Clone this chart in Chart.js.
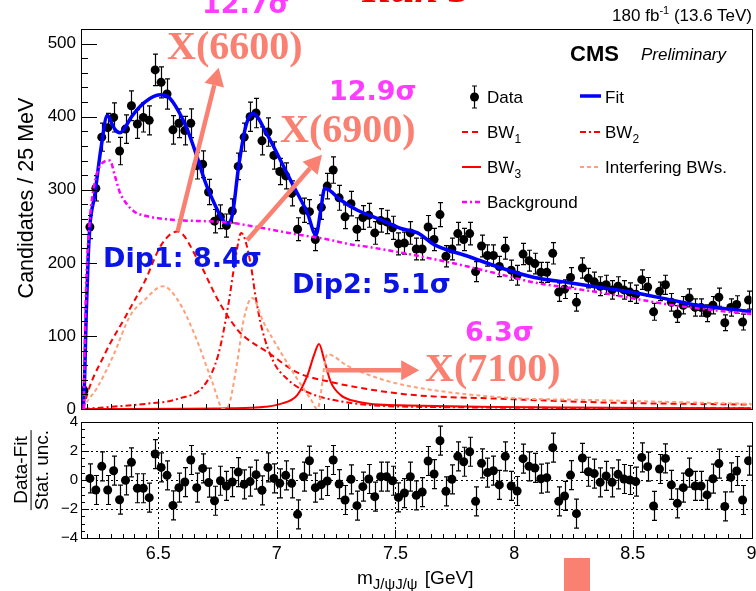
<!DOCTYPE html>
<html>
<head>
<meta charset="utf-8">
<title>J/psi J/psi mass fit</title>
<script src="https://cdn.jsdelivr.net/npm/chart.js@4.4.1/dist/chart.umd.min.js"></script>
<style>
  html, body { margin: 0; padding: 0; background: #fff; }
  body { position: relative; width: 756px; height: 591px; overflow: hidden; font-family: "Liberation Sans", Arial, sans-serif; }
  canvas { position: absolute; left: 0; }
  .t { position: absolute; white-space: nowrap; line-height: 1; }
  .sig { font-family: "DejaVu Sans", sans-serif; font-weight: bold; font-size: 27px; color: #ff3cff; }
  .dip { font-family: "DejaVu Sans", sans-serif; font-weight: bold; font-size: 27px; color: #0a14e6; }
  .xs { font-family: "Liberation Serif", "Times New Roman", serif; font-weight: bold; font-size: 40px; color: #fa8072; }
  .leg { font-size: 17px; color: #000; }
  .sub { font-size: 12px; position: relative; top: 5px; }
  .rot { position: absolute; transform: translate(-50%, -50%) rotate(-90deg); white-space: nowrap; font-size: 19px; line-height: 1.05; text-align: center; }
</style>
</head>
<body>
<canvas id="top" width="756" height="415" style="top:0"></canvas>
<canvas id="pull" width="756" height="176" style="top:415px"></canvas>

<div class="t" style="left:362px;top:-34px;font-family:'Liberation Serif',serif;font-weight:bold;font-style:italic;font-size:43px;color:#f00000">Run 3</div>
<div class="t sig" style="left:202px;top:-10px">12.7σ</div>
<div class="t xs" style="left:167px;top:26px">X(6600)</div>
<div class="t sig" style="left:329px;top:77px">12.9σ</div>
<div class="t xs" style="left:280px;top:109px">X(6900)</div>
<div class="t dip" style="left:103px;top:244px">Dip1: 8.4σ</div>
<div class="t dip" style="left:292px;top:270px">Dip2: 5.1σ</div>
<div class="t sig" style="left:465px;top:318px">6.3σ</div>
<div class="t xs" style="left:425px;top:348px">X(7100)</div>

<div class="t" style="right:4px;top:7px;font-size:17px">180 fb<span style="font-size:11px;position:relative;top:-7px">-1</span> (13.6 TeV)</div>
<div class="t" style="left:570px;top:43px;font-size:22px;font-weight:bold">CMS</div>
<div class="t" style="left:641px;top:46px;font-size:17px;font-style:italic">Preliminary</div>

<div class="t leg" style="left:487px;top:89px">Data</div>
<div class="t leg" style="left:605px;top:89px">Fit</div>
<div class="t leg" style="left:487px;top:124px">BW<span class="sub">1</span></div>
<div class="t leg" style="left:605px;top:124px">BW<span class="sub">2</span></div>
<div class="t leg" style="left:487px;top:159px">BW<span class="sub">3</span></div>
<div class="t leg" style="left:605px;top:159px">Interfering BWs.</div>
<div class="t leg" style="left:487px;top:194px">Background</div>

<div class="rot" style="left:26px;top:198px;font-size:21.5px">Candidates / 25 MeV</div>
<div class="rot" style="left:31px;top:470px"><div style="border-bottom:1.5px solid #000;padding:0 2px">Data-Fit</div><div>Stat. unc.</div></div>
<div class="t" style="left:357px;top:568px;font-size:19px">m<span style="font-size:15px;position:relative;top:5px;margin-right:2px">J/ψJ/ψ</span> [GeV]</div>

<div style="position:absolute;left:564px;top:558px;width:26px;height:33px;background:#fa8072"></div>

<script>
const FONT = '"Liberation Sans", Arial, sans-serif';

// 25 MeV bins, 6.175 - 9.0 GeV
const binLow = 6.175;
const binWidth = 0.025;
const counts = [
  25, 249, 302, 372, 385, 399, 353, 383, 415, 390, 399, 395, 464, 447, 431, 382, 391, 381, 391, 333,
  335, 297, 257, 263, 251, 271, 332, 372, 400, 405, 367, 379, 347, 325, 319, 295, 246, 272, 270, 232,
  276, 305, 327, 289, 263, 281, 246, 262, 265, 241, 258, 256, 248, 226, 227, 241, 219, 219, 249, 232,
  266, 209, 219, 240, 232, 240, 188, 223, 210, 210, 195, 220, 190, 183, 212, 203, 199, 187, 187, 213,
  160, 164, 180, 146, 193, 179, 174, 168, 170, 163, 168, 163, 160, 157, 177, 167, 133, 161, 170, 146,
  130, 142, 152, 139, 139, 131, 142, 153, 118, 139, 143, 119, 149
];
// (data - fit) / stat. unc.
const pulls = [
  null, 0.11, -0.69, 0.94, -0.69, 0.64, -1.36, -0.02, 1.22, -0.57, -0.57, -1.22, 1.79, 0.87, 0.32, -1.75, -0.53, -0.14, 1.38, -0.53,
  0.8, -0.18, -1.43, -0.05, -0.41, -0.14, 0.55, -0.3, -0.11, 0.37, -0.71, 0.87, 0.11, -0.23, 0.32, -0.23, -2.37, 0.23, 1.33, -0.53,
  -0.32, -0.07, 1.38, -0.28, -1.38, 0.05, -1.77, -0.46, 0.07, -1.15, 0.23, 0.23, -0.05, -1.2, -0.9, 0.23, -1.06, -0.83, 1.31, 0.41,
  2.71, -0.78, 0.05, 1.63, 1.26, 1.95, -1.47, 1.15, 0.51, 0.64, -0.34, 1.63, -0.41, -0.76, 1.47, 0.94, 0.83, 0.09, 0.16, 2.23,
  -1.47, -1.1, 0.34, -2.32, 1.52, 0.57, 0.44, -0.16, 0.28, -0.16, 0.39, 0.07, 0, -0.11, 1.56, 0.92, -1.79, 0.76, 1.49, -0.34,
  -1.61, -0.53, 0.51, -0.41, -0.41, -1.03, 0.09, 1.13, -1.82, 0.18, 0.62, -1.38, 1.33
];

// curves (mass in GeV, candidates / 25 MeV)
const fitM = [6.185, 6.19, 6.197, 6.205, 6.212, 6.233, 6.261, 6.286, 6.303, 6.317, 6.339, 6.36, 6.388, 6.444, 6.508, 6.543, 6.585, 6.627, 6.662, 6.698, 6.733, 6.768, 6.789, 6.813, 6.838, 6.867, 6.888, 6.9, 6.96, 7.016, 7.072, 7.129, 7.165, 7.185, 7.202, 7.269, 7.34, 7.438, 7.523, 7.593, 7.663, 7.805, 7.945, 8.086, 8.227, 8.368, 8.508, 8.649, 8.79, 8.931, 9.0];
const fitY = [0, 40, 130, 205, 249, 293, 361, 402, 392, 383, 378, 385, 400, 420, 430, 427, 408, 379, 347, 311, 284, 261, 254, 266, 329, 384, 402, 404, 375, 340, 304, 268, 238, 272, 302, 286, 272, 259, 247, 241, 225, 209, 193, 180, 173, 166, 159, 150, 141, 136, 133];

const bgM = [6.186, 6.195, 6.21, 6.23, 6.26, 6.297, 6.317, 6.338, 6.36, 6.4, 6.45, 6.5, 6.6, 6.7, 6.8, 6.9, 7.0, 7.1, 7.2, 7.3, 7.4, 7.523, 7.663, 7.804, 7.945, 8.086, 8.227, 8.368, 8.508, 8.649, 8.79, 9.0];
const bgY = [0, 150, 250, 305, 335, 340, 320, 297, 284, 270, 264, 261, 258, 257, 255, 250, 244, 238, 233, 226, 221, 214, 205, 195, 184, 173, 166, 159, 151, 143, 137, 130];

const bw1M = [6.186, 6.19, 6.275, 6.36, 6.444, 6.514, 6.582, 6.669, 6.754, 6.838, 6.875, 6.96, 7.086, 7.227, 7.368, 7.579, 7.945, 8.368, 9.0];
const bw1Y = [0, 7, 75, 125, 175, 225, 243, 203, 148, 107, 96, 78, 50, 37, 28, 19, 14, 9, 6];

const bw2M = [6.186, 6.3, 6.444, 6.585, 6.698, 6.754, 6.796, 6.824, 6.85, 6.889, 6.91, 6.938, 6.987, 7.044, 7.129, 7.298, 7.579, 9.0];
const bw2Y = [0, 3, 7, 14, 34, 75, 143, 202, 241, 200, 155, 109, 64, 41, 23, 9, 3, 1];

const bw3M = [6.186, 6.8, 6.95, 7.016, 7.086, 7.129, 7.156, 7.178, 7.199, 7.227, 7.269, 7.34, 7.509, 9.0];
const bw3Y = [0, 1, 3, 7, 19, 46, 73, 89, 68, 37, 19, 10, 5, 1];

const intM = [6.186, 6.192, 6.241, 6.311, 6.381, 6.445, 6.52, 6.585, 6.656, 6.726, 6.775, 6.797, 6.833, 6.861, 6.896, 6.945, 7.016, 7.086, 7.142, 7.171, 7.213, 7.298, 7.438, 7.579, 7.945, 8.368, 9.0];
const intY = [0, 5, 28, 73, 127, 150, 168, 148, 100, 39, 0, 5, 64, 123, 152, 118, 78, 41, 14, 0, 75, 59, 41, 30, 16, 12, 7];

// arrows from each resonance to its label, in data coordinates
const arrows = [
  { from: [6.582, 243], to: [6.755, 467] },
  { from: [6.875, 231], to: [7.19, 348] },
  { from: [7.206, 53], to: [7.6, 53] },
];

const massCenters = counts.map((_, i) => +(binLow + binWidth * (i + 0.5)).toFixed(4));
const xy = (xs, ys) => xs.map((x, i) => ({ x, y: ys[i] }));

function curve(label, xs, ys, color, width, dash) {
  return {
    label, type: 'line', data: xy(xs, ys),
    borderColor: color, borderWidth: width, borderDash: dash || [],
    pointRadius: 0, showLine: true, fill: false,
    cubicInterpolationMode: 'monotone',
  };
}

// ROOT style: ticks pointing into the frame, on left and bottom
function insideTicks(ctx, area, scale, horiz, step, every, lenMinor, lenMajor) {
  const k0 = Math.ceil(scale.min / step - 1e-6);
  const k1 = Math.floor(scale.max / step + 1e-6);
  for (let k = k0; k <= k1; k++) {
    const p = Math.round(scale.getPixelForValue(k * step)) + 0.5;
    const len = k % every === 0 ? lenMajor : lenMinor;
    ctx.beginPath();
    if (horiz) { ctx.moveTo(p, area.bottom); ctx.lineTo(p, area.bottom - len); }
    else { ctx.moveTo(area.left, p); ctx.lineTo(area.left + len, p); }
    ctx.stroke();
  }
}

const frame = {
  id: 'frame',
  afterDraw(chart, args, o) {
    const { ctx, chartArea: a, scales } = chart;
    ctx.save();
    ctx.strokeStyle = '#000';
    ctx.lineWidth = 1;
    ctx.setLineDash([]);
    insideTicks(ctx, a, scales.x, true, o.x[0], o.x[1], o.x[2], o.x[3]);
    insideTicks(ctx, a, scales.y, false, o.y[0], o.y[1], o.y[2], o.y[3]);
    ctx.strokeRect(Math.round(a.left) + 0.5, Math.round(a.top) + 0.5, Math.round(a.right - a.left), Math.round(a.bottom - a.top));
    ctx.restore();
  }
};

const errorBars = {
  id: 'errorBars',
  afterDatasetDraw(chart, args) {
    const ds = chart.data.datasets[args.index];
    if (!ds.errors) return;
    const { ctx } = chart;
    const y = chart.scales.y;
    ctx.save();
    ctx.strokeStyle = '#000';
    ctx.lineWidth = 1.2;
    args.meta.data.forEach((pt, i) => {
      const v = ds.data[i].y;
      if (v == null) return;
      const e = ds.errors[i];
      const x = Math.round(pt.x) + 0.5;
      const y1 = y.getPixelForValue(v + e), y2 = y.getPixelForValue(v - e);
      ctx.beginPath();
      ctx.moveTo(x, y1); ctx.lineTo(x, y2);
      ctx.moveTo(x - 2.5, y1); ctx.lineTo(x + 2.5, y1);
      ctx.moveTo(x - 2.5, y2); ctx.lineTo(x + 2.5, y2);
      ctx.stroke();
    });
    ctx.restore();
  }
};

const annotations = {
  id: 'annotations',
  afterDatasetsDraw(chart) {
    const { ctx, scales: { x, y } } = chart;
    ctx.save();
    ctx.strokeStyle = ctx.fillStyle = '#fa8072';
    ctx.lineWidth = 4.5;
    arrows.forEach(a => {
      const x0 = x.getPixelForValue(a.from[0]), y0 = y.getPixelForValue(a.from[1]);
      const x1 = x.getPixelForValue(a.to[0]), y1 = y.getPixelForValue(a.to[1]);
      const ang = Math.atan2(y1 - y0, x1 - x0);
      const hl = 18, hw = 10;
      const bx = x1 - hl * Math.cos(ang), by = y1 - hl * Math.sin(ang);
      ctx.beginPath(); ctx.moveTo(x0, y0); ctx.lineTo(bx, by); ctx.stroke();
      ctx.beginPath();
      ctx.moveTo(x1, y1);
      ctx.lineTo(bx + hw * Math.sin(ang), by - hw * Math.cos(ang));
      ctx.lineTo(bx - hw * Math.sin(ang), by + hw * Math.cos(ang));
      ctx.closePath(); ctx.fill();
    });
    ctx.restore();

    // legend symbols
    const seg = (x0, x1, yy, color, w, dash) => {
      ctx.save();
      ctx.strokeStyle = color; ctx.lineWidth = w; ctx.setLineDash(dash);
      ctx.beginPath(); ctx.moveTo(x0, yy); ctx.lineTo(x1, yy); ctx.stroke();
      ctx.restore();
    };
    ctx.save();
    ctx.strokeStyle = ctx.fillStyle = '#000';
    ctx.lineWidth = 1.2;
    ctx.beginPath();
    ctx.moveTo(474.5, 86); ctx.lineTo(474.5, 108);
    ctx.moveTo(472, 86); ctx.lineTo(477, 86);
    ctx.moveTo(472, 108); ctx.lineTo(477, 108);
    ctx.stroke();
    ctx.beginPath(); ctx.arc(474.5, 97, 4.5, 0, Math.PI * 2); ctx.fill();
    ctx.restore();
    seg(580, 601, 96, '#0000ff', 3.5, []);
    seg(462, 481, 132, '#ff0000', 2, [6, 4]);
    seg(580, 601, 132, '#ff0000', 2, [6, 3, 2, 3]);
    seg(462, 481, 167, '#ff0000', 2, []);
    seg(580, 601, 167, '#ffa07a', 2, [4, 3]);
    seg(462, 481, 202, '#ff00ff', 2.5, [5, 3, 2, 3]);
  }
};

const yAxisFit = s => { s.width = 81; s.paddingTop = 0; s.paddingBottom = 0; };

new Chart(document.getElementById('top'), {
  type: 'scatter',
  data: {
    datasets: [
      curve('Background', bgM, bgY, '#ff00ff', 2.5, [5, 3, 2, 3]),
      curve('Interfering BWs.', intM, intY, '#ffa07a', 2, [4, 3]),
      curve('BW1', bw1M, bw1Y, '#ff0000', 2, [6, 4]),
      curve('BW2', bw2M, bw2Y, '#ff0000', 2, [6, 3, 2, 3]),
      curve('BW3', bw3M, bw3Y, '#ff0000', 2, []),
      curve('Fit', fitM, fitY, '#0000ff', 3.5, []),
      {
        label: 'Data',
        data: xy(massCenters, counts),
        errors: counts.map(Math.sqrt),
        showLine: false,
        pointRadius: 4.5,
        pointBackgroundColor: '#000',
        pointBorderWidth: 0,
      },
    ],
  },
  options: {
    responsive: false,
    animation: false,
    devicePixelRatio: 1,
    layout: { padding: { top: 29, right: 4, bottom: 6, left: 0 } },
    plugins: {
      legend: { display: false },
      tooltip: { enabled: false },
      frame: { x: [0.1, 5, 5, 10], y: [20, 5, 7, 16] },
    },
    scales: {
      x: { type: 'linear', min: binLow, max: 9, display: false },
      y: {
        min: 0, max: 520,
        afterFit: yAxisFit,
        afterBuildTicks: s => { s.ticks = [0, 100, 200, 300, 400, 500].map(value => ({ value })); },
        grid: { display: false, drawTicks: false },
        border: { display: false },
        ticks: { color: '#000', padding: 5, font: { family: FONT, size: 17 } },
      },
    },
  },
  plugins: [frame, errorBars, annotations],
});

const pullGrid = {
  id: 'pullGrid',
  beforeDatasetsDraw(chart) {
    const { ctx, chartArea: a, scales: { x, y } } = chart;
    ctx.save();
    ctx.strokeStyle = '#000';
    ctx.lineWidth = 1;
    ctx.setLineDash([2, 3]);
    [6.5, 7, 7.5, 8, 8.5].forEach(v => {
      const p = Math.round(x.getPixelForValue(v)) + 0.5;
      ctx.beginPath(); ctx.moveTo(p, a.top); ctx.lineTo(p, a.bottom); ctx.stroke();
    });
    [2, 0, -2].forEach(v => {
      const p = Math.round(y.getPixelForValue(v)) + 0.5;
      ctx.beginPath(); ctx.moveTo(a.left, p); ctx.lineTo(a.right, p); ctx.stroke();
    });
    ctx.restore();
  }
};

new Chart(document.getElementById('pull'), {
  type: 'scatter',
  data: {
    datasets: [{
      label: 'Pull',
      data: xy(massCenters, pulls),
      errors: pulls.map(() => 1),
      showLine: false,
      pointRadius: 4.5,
      pointBackgroundColor: '#000',
      pointBorderWidth: 0,
    }],
  },
  options: {
    responsive: false,
    animation: false,
    devicePixelRatio: 1,
    layout: { padding: { top: 7, right: 4, bottom: 0, left: 0 } },
    plugins: {
      legend: { display: false },
      tooltip: { enabled: false },
      frame: { x: [0.05, 10, 4, 8], y: [0.5, 4, 4, 8] },
    },
    scales: {
      x: {
        type: 'linear', min: binLow, max: 9,
        afterFit: s => { s.height = 53; s.paddingLeft = 0; s.paddingRight = 0; },
        afterBuildTicks: s => { s.ticks = [6.5, 7, 7.5, 8, 8.5, 9].map(value => ({ value })); },
        grid: { display: false, drawTicks: false },
        border: { display: false },
        ticks: { color: '#000', padding: 5, maxRotation: 0, font: { family: FONT, size: 18 }, callback: v => String(v) },
      },
      y: {
        min: -4, max: 4,
        afterFit: yAxisFit,
        afterBuildTicks: s => { s.ticks = [4, 2, 0, -2, -4].map(value => ({ value })); },
        grid: { display: false, drawTicks: false },
        border: { display: false },
        ticks: { color: '#000', padding: 3, font: { family: FONT, size: 15 }, callback: v => (v < 0 ? '\u2212' + Math.abs(v) : String(v)) },
      },
    },
  },
  plugins: [frame, errorBars, pullGrid],
});
</script>
</body>
</html>
